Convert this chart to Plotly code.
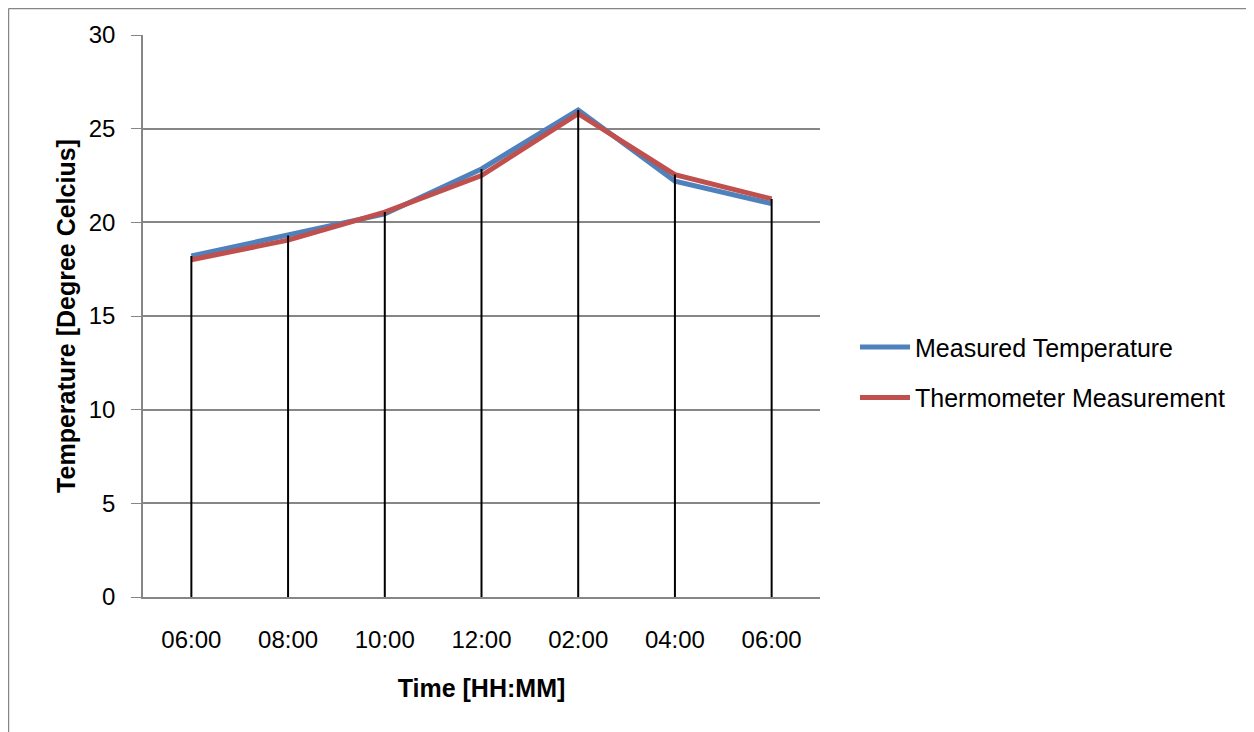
import plotly.graph_objects as go

categories = ["06:00", "08:00", "10:00", "12:00", "02:00", "04:00", "06:00"]
measured = [18.2, 19.3, 20.45, 22.85, 26.0, 22.2, 21.0]
thermometer = [18.0, 19.05, 20.55, 22.5, 25.8, 22.55, 21.25]
y_ticks = [0, 5, 10, 15, 20, 25, 30]

xs = list(range(len(categories)))

fig = go.Figure()
fig.add_trace(go.Scatter(x=xs, y=measured, mode="lines", name="Measured Temperature",
                         legendgroup="a", line=dict(color="#4F81BD", width=5)))
fig.add_trace(go.Scatter(x=xs, y=thermometer, mode="lines", name="Thermometer Measurement",
                         legendgroup="b", line=dict(color="#C0504D", width=5)))

# drop lines
dx, dy = [], []
for i, (a, b) in enumerate(zip(measured, thermometer)):
    dx += [i, i, None]
    dy += [0, max(a, b), None]
fig.add_trace(go.Scatter(x=dx, y=dy, mode="lines", showlegend=False, hoverinfo="skip",
                         line=dict(color="black", width=2)))

tick_font = dict(family="Liberation Sans, Arial, sans-serif", size=24, color="black")
title_font = dict(family="Liberation Sans, Arial, sans-serif", size=25, color="black")

fig.update_layout(
    width=1246, height=724,
    margin=dict(l=135, r=434, t=27, b=135),
    paper_bgcolor="white", plot_bgcolor="white",
    showlegend=True,
    legend=dict(x=1.0517, y=0.400, xanchor="left", yanchor="middle",
                font=dict(family="Liberation Sans, Arial, sans-serif", size=25, color="black"),
                traceorder="grouped", tracegroupgap=15, itemwidth=50,
                bgcolor="rgba(0,0,0,0)"),
    xaxis=dict(tickmode="array", tickvals=xs, ticktext=categories, range=[-0.5, 6.5],
               showgrid=False, zeroline=False, showline=True, linecolor="#868686", linewidth=1.5,
               ticks="", tickfont=tick_font, ticklabelstandoff=20,
               title=dict(text="<b>Time [HH:MM]</b>", font=title_font, standoff=28)),
    yaxis=dict(tickmode="array", tickvals=y_ticks, range=[0, 30],
               showgrid=True, gridcolor="#868686", gridwidth=1.5, zeroline=False,
               showline=True, linecolor="#868686", linewidth=1.5,
               ticks="outside", ticklen=10, tickcolor="#868686", tickfont=tick_font,
               ticklabelstandoff=11,
               title=dict(text="<b>Temperature [Degree Celcius]</b>", font=title_font, standoff=6)),
)

# outer chart border (left and top edges visible)
fig.add_shape(type="line", xref="paper", yref="paper", x0=-0.1987, x1=-0.1987, y0=-0.2402, y1=1.0472,
              line=dict(color="#868686", width=1.5))
fig.add_shape(type="line", xref="paper", yref="paper", x0=-0.1987, x1=1.65, y0=1.0472, y1=1.0472,
              line=dict(color="#868686", width=1.5))

fig.write_html("out.html")
